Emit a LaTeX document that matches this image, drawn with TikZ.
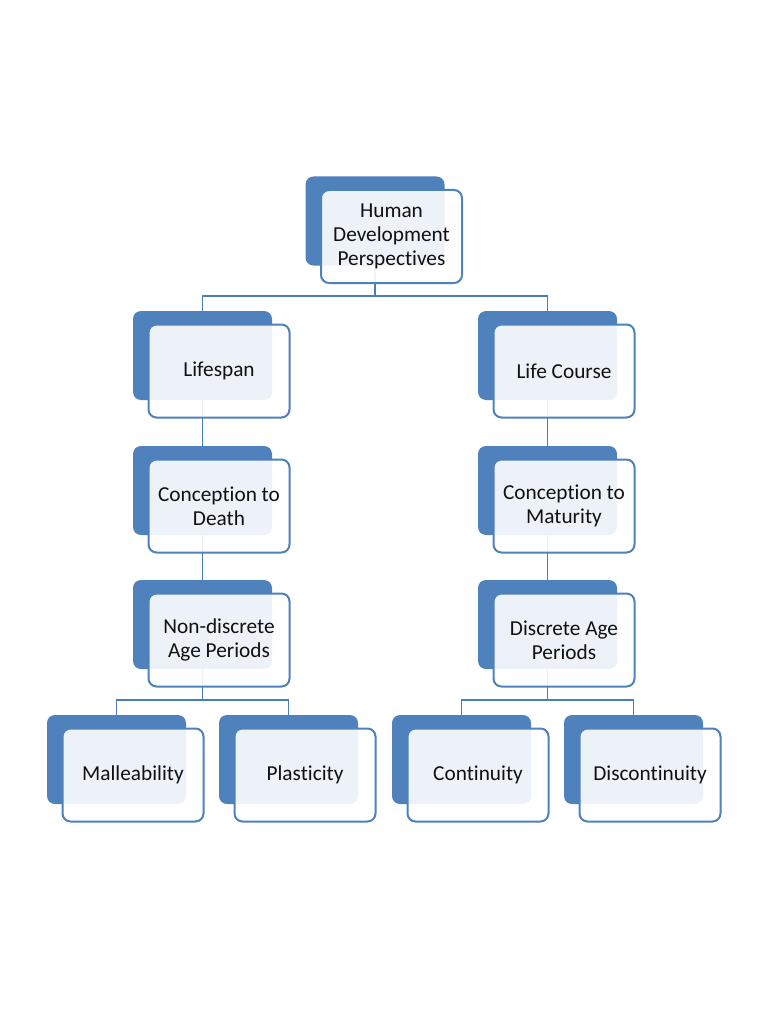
\documentclass[tikz,border=0pt]{standalone}
\usepackage{fontspec}
\setmainfont[Ligatures=NoCommon]{Carlito}
\definecolor{hdblue}{HTML}{4F81BD}
\definecolor{hdline}{HTML}{4A7EBB}
\definecolor{hdtext}{HTML}{111111}
\tikzset{
  backbox/.style={draw=none, fill=hdblue, rounded corners=8pt, minimum width=139pt, minimum height=89pt, inner sep=0pt},
  frontbox/.style={draw=hdblue, line width=2pt, fill=white, fill opacity=0.9, text opacity=1, rounded corners=8pt, minimum width=141pt, minimum height=93pt, inner sep=0pt, align=center, text=hdtext, font=\fontsize{21.3pt}{24pt}\selectfont},
  conn/.style={draw=hdline, line width=1.8pt}
}
\newcommand\hdnode[3]{%
  \node[backbox] (#1) at (#2) {};
  \node[frontbox] (#1f) at ([shift={(16.5,15.5)}]#1.center) {#3};
}
\begin{document}
\begin{tikzpicture}[x=1pt,y=-1pt]
\fill[white] (0,0) rectangle (768,1024);
\useasboundingbox (0,0) rectangle (768,1024);
% connectors (drawn first, behind the boxes)
\coordinate (bus0) at (375,296);
\coordinate (bus5) at (202.5,700);
\coordinate (bus6) at (547.5,700);
\coordinate (p0) at (375,221);
\coordinate (p1) at (202.5,355.5);
\coordinate (p2) at (547.5,355.5);
\coordinate (p3) at (202.5,490.5);
\coordinate (p4) at (547.5,490.5);
\coordinate (p5) at (202.5,624.5);
\coordinate (p6) at (547.5,624.5);
\coordinate (p7) at (116.5,759.5);
\coordinate (p8) at (288.5,759.5);
\coordinate (p9) at (461.5,759.5);
\coordinate (p10) at (633.5,759.5);
\draw[conn] (p0) -- (bus0) -| (p1);
\draw[conn] (bus0) -| (p2);
\draw[conn] (p1) -- (p3);
\draw[conn] (p3) -- (p5);
\draw[conn] (p2) -- (p4);
\draw[conn] (p4) -- (p6);
\draw[conn] (p5) -- (bus5) -| (p7);
\draw[conn] (bus5) -| (p8);
\draw[conn] (p6) -- (bus6) -| (p9);
\draw[conn] (bus6) -| (p10);
% boxes
\hdnode{b0}{p0}{Human\\Development\\Perspectives}
\hdnode{b1}{p1}{Lifespan}
\hdnode{b2}{p2}{Life Course}
\hdnode{b3}{p3}{Conception to\\Death}
\hdnode{b4}{p4}{Conception to\\Maturity}
\hdnode{b5}{p5}{Non-discrete\\Age Periods}
\hdnode{b6}{p6}{Discrete Age\\Periods}
\hdnode{b7}{p7}{Malleability}
\hdnode{b8}{p8}{Plasticity}
\hdnode{b9}{p9}{Continuity}
\hdnode{b10}{p10}{Discontinuity}
\end{tikzpicture}
\end{document}
